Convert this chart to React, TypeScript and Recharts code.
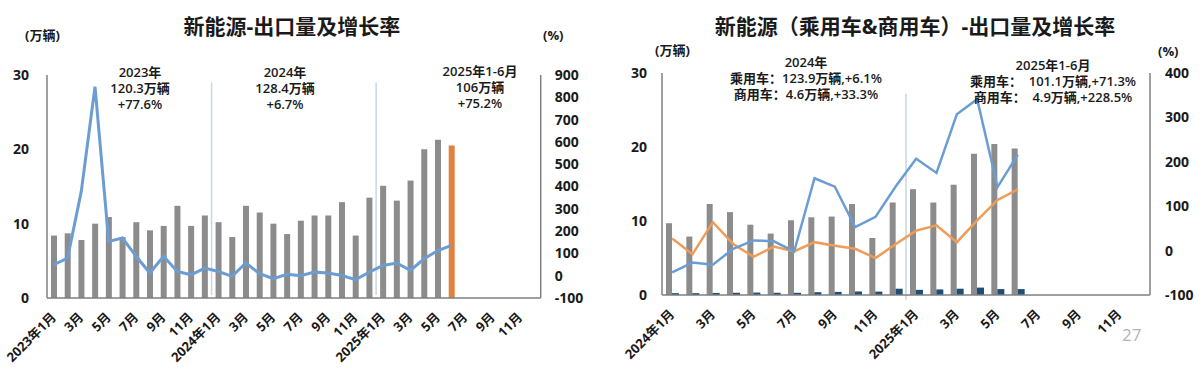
import React from 'react';
import { ComposedChart, Bar, Line, XAxis, YAxis, Cell, ReferenceLine } from 'recharts';

// 左图：新能源出口量（万辆）及同比增速（%），2023年1月 ~ 2025年12月
const leftMonths = [
  '2023-01', '2023-02', '2023-03', '2023-04', '2023-05', '2023-06', '2023-07', '2023-08', '2023-09', '2023-10', '2023-11', '2023-12',
  '2024-01', '2024-02', '2024-03', '2024-04', '2024-05', '2024-06', '2024-07', '2024-08', '2024-09', '2024-10', '2024-11', '2024-12',
  '2025-01', '2025-02', '2025-03', '2025-04', '2025-05', '2025-06', '2025-07', '2025-08', '2025-09', '2025-10', '2025-11', '2025-12',
];
const leftTickLabels = [
  '2023年1月', '', '3月', '', '5月', '', '7月', '', '9月', '', '11月', '',
  '2024年1月', '', '3月', '', '5月', '', '7月', '', '9月', '', '11月', '',
  '2025年1月', '', '3月', '', '5月', '', '7月', '', '9月', '', '11月', '',
];
const leftVolume = [
  8.4, 8.7, 7.8, 10.0, 10.9, 8.2, 10.2, 9.1, 9.7, 12.4, 9.7, 11.1,
  10.2, 8.2, 12.4, 11.5, 10.0, 8.6, 10.4, 11.1, 11.1, 12.9, 8.4, 13.5,
  15.1, 13.1, 15.8, 20.0, 21.3, 20.5,
];
const leftGrowth = [
  49, 79, 378, 848, 154, 169, 87, 12, 87, 19, 4, 34,
  19, -3, 57, 9, -13, 6, 0, 16, 12, 1, -18, 16,
  46, 57, 24, 76, 113, 136,
];

// 右图：乘用车 / 商用车，2024年1月 ~ 2025年12月
const rightMonths = [
  '2024-01', '2024-02', '2024-03', '2024-04', '2024-05', '2024-06', '2024-07', '2024-08', '2024-09', '2024-10', '2024-11', '2024-12',
  '2025-01', '2025-02', '2025-03', '2025-04', '2025-05', '2025-06', '2025-07', '2025-08', '2025-09', '2025-10', '2025-11', '2025-12',
];
const rightTickLabels = [
  '2024年1月', '', '3月', '', '5月', '', '7月', '', '9月', '', '11月', '',
  '2025年1月', '', '3月', '', '5月', '', '7月', '', '9月', '', '11月', '',
];
const passengerVolume = [9.7, 7.9, 12.3, 11.2, 9.5, 8.3, 10.1, 10.5, 10.6, 12.3, 7.7, 12.5, 14.3, 12.5, 14.9, 19.1, 20.4, 19.8];
const commercialVolume = [0.25, 0.25, 0.28, 0.3, 0.33, 0.3, 0.3, 0.38, 0.42, 0.48, 0.46, 0.85, 0.7, 0.75, 0.85, 1.0, 0.8, 0.8];
const passengerGrowth = [27, -8, 64, 15, -14, 9, -2, 19, 11, 4, -17, 15, 45, 57, 19, 68, 114, 138];
const commercialGrowth = [-49, -27, -32, 4, 23, 21, -2, 163, 144, 53, 76, 145, 207, 175, 307, 341, 143, 216];

const leftVolumeTicks = [0, 10, 20, 30];
const leftRateTicks = [-100, 0, 100, 200, 300, 400, 500, 600, 700, 800, 900];
const rightRateTicks = [-100, 0, 100, 200, 300, 400];

const FONT = "'Open Sans','Noto Sans CJK SC',sans-serif";
const GRAY = '#8c8c8c';
const AXIS = '#7f7f7f';
const BLUE = '#6b9dd3';
const ORANGE = '#ef9c57';
const TEXT = '#1a1a1a';
const DIVIDER = '#c8d6e5';

const leftData = leftMonths.map((m, i) => ({
  month: m,
  volume: leftVolume[i] ?? null,
  growth: leftGrowth[i] ?? null,
}));

const rightData = rightMonths.map((m, i) => ({
  month: m,
  passenger: passengerVolume[i] ?? null,
  commercial: commercialVolume[i] ?? null,
  pGrowth: passengerGrowth[i] ?? null,
  cGrowth: commercialGrowth[i] ?? null,
}));

const makeMonthTick = (labels: string[]) => (props: any) => {
  const { x, y, index } = props;
  const label = labels[index];
  if (!label) return <g />;
  const ax = x + 3;
  const ay = y + 12;
  return (
    <text
      x={ax}
      y={ay}
      transform={`rotate(-45 ${ax} ${ay})`}
      textAnchor="end"
      fontSize={13}
      fontWeight={700}
      fontFamily={FONT}
      fill={TEXT}
    >
      {label}
    </text>
  );
};
const LeftMonthTick = makeMonthTick(leftTickLabels);
const RightMonthTick = makeMonthTick(rightTickLabels);

const yTick = { fontSize: 14, fontWeight: 700, fill: TEXT, fontFamily: FONT };

const Note = ({ x, y, lines }: { x: number; y: number; lines: string[] }) => (
  <div
    style={{
      position: 'absolute',
      left: x,
      top: y,
      transform: 'translateX(-50%)',
      textAlign: 'center',
      whiteSpace: 'pre',
      fontFamily: FONT,
      fontSize: 13,
      fontWeight: 600,
      lineHeight: '16px',
      color: TEXT,
    }}
  >
    {lines.map((l) => (
      <div key={l}>{l}</div>
    ))}
  </div>
);

const Label = ({ x, y, text, size = 13, center = false }: { x: number; y: number; text: string; size?: number; center?: boolean }) => (
  <div
    style={{
      position: 'absolute',
      left: x,
      top: y,
      transform: center ? 'translateX(-50%)' : undefined,
      fontFamily: FONT,
      fontSize: size,
      fontWeight: 700,
      color: TEXT,
      whiteSpace: 'pre',
      lineHeight: 1,
    }}
  >
    {text}
  </div>
);

export default function App() {
  return (
    <div style={{ position: 'absolute', left: 0, top: 0, width: 1200, height: 377, background: '#fff', overflow: 'hidden' }}>
      <div style={{ position: 'absolute', left: 0, top: 0 }}>
        <ComposedChart width={600} height={377} data={leftData} margin={{ top: 75, right: 0, bottom: 0, left: 0 }}>
          <XAxis
            dataKey="month"
            interval={0}
            height={79}
            tick={<LeftMonthTick />}
            tickLine={false}
            axisLine={{ stroke: AXIS, strokeWidth: 1.5 }}
          />
          <YAxis
            yAxisId="left"
            domain={[0, 30]}
            ticks={leftVolumeTicks}
            width={47}
            tickLine={false}
            tickSize={0}
            tickMargin={18}
            tick={yTick}
            axisLine={{ stroke: AXIS, strokeWidth: 1.5 }}
          />
          <YAxis
            yAxisId="right"
            orientation="right"
            domain={[-100, 900]}
            ticks={leftRateTicks}
            width={59.3}
            tickLine={false}
            tickSize={0}
            tickMargin={14}
            tick={{ ...yTick, textAnchor: 'start' }}
            axisLine={{ stroke: AXIS, strokeWidth: 1.5 }}
          />
          <ReferenceLine
            yAxisId="left"
            position="start"
            ifOverflow="visible"
            segment={[{ x: '2024-01', y: 29 }, { x: '2024-01', y: 0.4 }]}
            stroke={DIVIDER}
            strokeWidth={1.5}
          />
          <ReferenceLine
            yAxisId="left"
            position="start"
            ifOverflow="visible"
            segment={[{ x: '2025-01', y: 29 }, { x: '2025-01', y: 0.4 }]}
            stroke={DIVIDER}
            strokeWidth={1.5}
          />
          <Bar yAxisId="left" dataKey="volume" barSize={6} fill={GRAY} isAnimationActive={false}>
            {leftData.map((d, i) => (
              <Cell key={i} fill={i === leftVolume.length - 1 ? '#e2803d' : GRAY} />
            ))}
          </Bar>
          <Line yAxisId="right" dataKey="growth" stroke={BLUE} strokeWidth={3} dot={false} isAnimationActive={false} />
        </ComposedChart>
      </div>

      <div style={{ position: 'absolute', left: 600, top: 0 }}>
        <ComposedChart width={600} height={377} data={rightData} barGap={0} margin={{ top: 73, right: 0, bottom: 0, left: 0 }}>
          <XAxis
            dataKey="month"
            interval={0}
            height={82}
            tick={<RightMonthTick />}
            tickLine={false}
            axisLine={{ stroke: AXIS, strokeWidth: 1.5 }}
          />
          <YAxis
            yAxisId="left"
            domain={[0, 30]}
            ticks={leftVolumeTicks}
            width={62}
            tickLine={false}
            tickSize={0}
            tickMargin={15}
            tick={yTick}
            axisLine={{ stroke: AXIS, strokeWidth: 1.5 }}
          />
          <YAxis
            yAxisId="right"
            orientation="right"
            domain={[-100, 400]}
            ticks={rightRateTicks}
            width={50}
            tickLine={false}
            tickSize={0}
            tickMargin={15}
            tick={{ ...yTick, textAnchor: 'start' }}
            axisLine={{ stroke: AXIS, strokeWidth: 1.5 }}
          />
          <ReferenceLine
            yAxisId="left"
            position="start"
            ifOverflow="visible"
            segment={[{ x: '2025-01', y: 27.2 }, { x: '2025-01', y: -0.7 }]}
            stroke={DIVIDER}
            strokeWidth={1.5}
          />
          <Bar yAxisId="left" dataKey="passenger" barSize={6} fill={GRAY} isAnimationActive={false} />
          <Bar yAxisId="left" dataKey="commercial" barSize={7} fill="#1f4e79" isAnimationActive={false} />
          <Line yAxisId="right" dataKey="pGrowth" stroke={ORANGE} strokeWidth={2.5} dot={false} isAnimationActive={false} />
          <Line yAxisId="right" dataKey="cGrowth" stroke={BLUE} strokeWidth={2.5} dot={false} isAnimationActive={false} />
        </ComposedChart>
      </div>

      {/* 标题与单位 */}
      <Label x={292} y={16} text="新能源-出口量及增长率" size={21} center />
      <Label x={25} y={29} text="(万辆)" />
      <Label x={543} y={29} text="(%)" />
      <Label x={915} y={16} text="新能源（乘用车&商用车）-出口量及增长率" size={21} center />
      <Label x={655} y={44} text="(万辆)" />
      <Label x={1158} y={45} text="(%)" />

      {/* 年度注释 */}
      <Note x={140} y={64} lines={['2023年', '120.3万辆', '+77.6%']} />
      <Note x={285} y={64} lines={['2024年', '128.4万辆', '+6.7%']} />
      <Note x={480} y={63} lines={['2025年1-6月', '106万辆', '+75.2%']} />
      <Note x={806} y={54} lines={['2024年', '乘用车：123.9万辆,+6.1%', '商用车：4.6万辆,+33.3%']} />
      <Note x={1053} y={57} lines={['2025年1-6月', '乘用车：  101.1万辆,+71.3%', '商用车：  4.9万辆,+228.5%']} />

      <div style={{ position: 'absolute', left: 1122, top: 323, fontFamily: FONT, fontSize: 17, color: '#b3b3b3' }}>27</div>
    </div>
  );
}
